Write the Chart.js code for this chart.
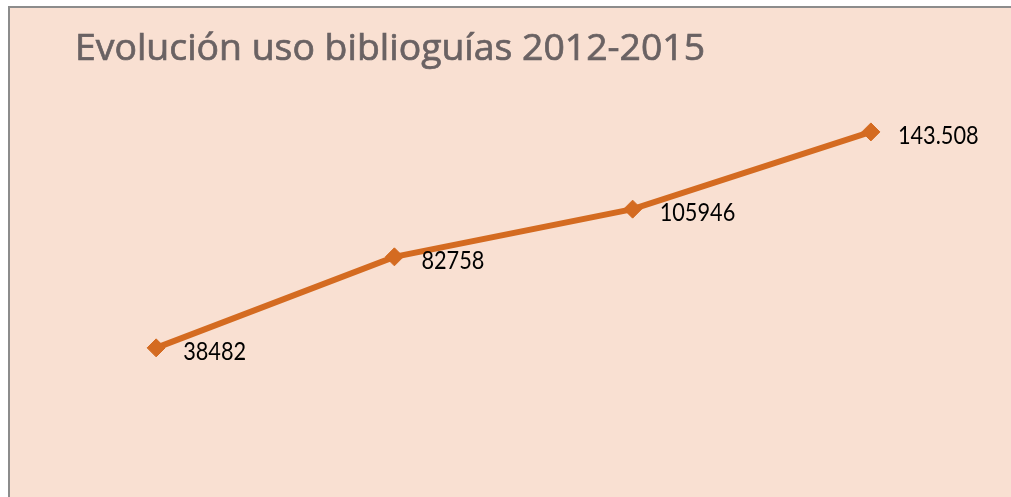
<!DOCTYPE html>
<html>
<head>
<meta charset="utf-8">
<script src="https://cdn.jsdelivr.net/npm/chart.js@4/dist/chart.umd.min.js"></script>
<style>
  html, body { margin: 0; padding: 0; background: #ffffff; }
  #wrap { position: relative; width: 1011px; height: 497px; }
  canvas { display: block; }
</style>
</head>
<body>
<div id="wrap"><canvas id="c" width="1011" height="497"></canvas></div>
<script>
// Yearly usage of the library guides
const years = ['2012', '2013', '2014', '2015'];
const usage = [38482, 82758, 105946, 143508];
const usageLabels = ['38482', '82758', '105946', '143.508'];
const chartTitle = 'Evolución uso biblioguías 2012-2015';

const lineColor = '#D46B21';
const panelColor = '#F9E0D2';

// Peach panel with a grey frame on the top and left edges
const panelPlugin = {
  id: 'panel',
  beforeDraw(chart) {
    const ctx = chart.ctx;
    ctx.save();
    ctx.fillStyle = '#ffffff';
    ctx.fillRect(0, 0, chart.width, chart.height);
    ctx.fillStyle = panelColor;
    ctx.fillRect(8, 6, chart.width - 8, chart.height - 6);
    ctx.strokeStyle = '#8c8c8c';
    ctx.lineWidth = 2;
    ctx.beginPath();
    ctx.moveTo(9, chart.height);
    ctx.lineTo(9, 7);
    ctx.lineTo(chart.width, 7);
    ctx.stroke();
    ctx.restore();
  }
};

// Title in the upper left corner of the panel
const titlePlugin = {
  id: 'panelTitle',
  afterDraw(chart) {
    const ctx = chart.ctx;
    ctx.save();
    ctx.font = '37px "Open Sans"';
    ctx.fillStyle = '#6A6263';
    ctx.strokeStyle = '#6A6263';
    ctx.lineWidth = 0.7;
    ctx.textBaseline = 'alphabetic';
    ctx.textAlign = 'left';
    ctx.translate(75, 60);
    ctx.scale(1.01, 1);
    ctx.fillText(chartTitle, 0, 0);
    ctx.strokeText(chartTitle, 0, 0);
    ctx.restore();
  }
};

// Value labels to the right of each marker
const valueLabelPlugin = {
  id: 'valueLabels',
  afterDatasetsDraw(chart) {
    const ctx = chart.ctx;
    const meta = chart.getDatasetMeta(0);
    ctx.save();
    ctx.font = '25px Lato';
    ctx.fillStyle = '#000000';
    ctx.textAlign = 'left';
    ctx.textBaseline = 'middle';
    meta.data.forEach((pt, i) => {
      ctx.save();
      ctx.translate(pt.x + 27, pt.y + 4);
      ctx.scale(0.87, 1);
      ctx.fillText(usageLabels[i], 0, 0);
      ctx.restore();
    });
    ctx.restore();
  }
};

new Chart(document.getElementById('c'), {
  type: 'line',
  data: {
    labels: years,
    datasets: [{
      data: usage,
      borderColor: lineColor,
      backgroundColor: lineColor,
      borderWidth: 6,
      pointStyle: 'rectRot',
      pointRadius: 9,
      pointBorderWidth: 1,
      pointBackgroundColor: lineColor,
      pointBorderColor: lineColor,
      tension: 0
    }]
  },
  options: {
    responsive: false,
    animation: false,
    layout: { padding: { left: 37, right: 21, top: 98, bottom: 70 } },
    plugins: {
      legend: { display: false },
      title: { display: false },
      tooltip: { enabled: false }
    },
    scales: {
      x: { display: false, offset: true },
      y: { display: false, min: 0, max: 160000 }
    }
  },
  plugins: [panelPlugin, titlePlugin, valueLabelPlugin]
});
</script>
</body>
</html>
